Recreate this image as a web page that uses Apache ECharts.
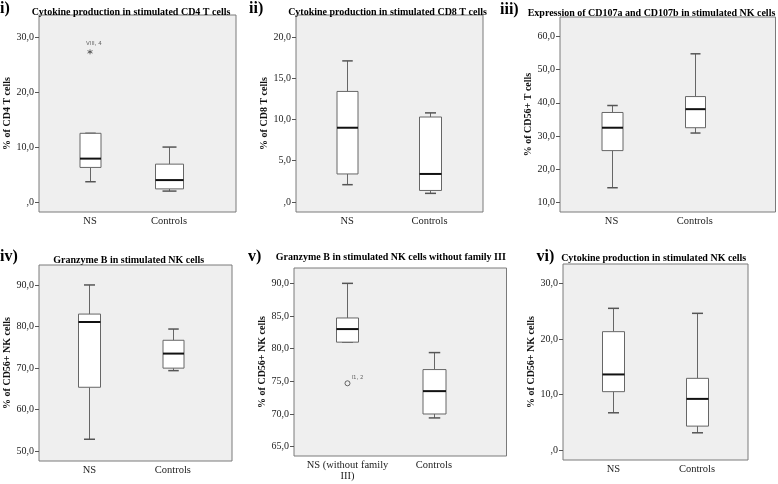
<!DOCTYPE html>
<html><head><meta charset="utf-8">
<script src="https://cdn.jsdelivr.net/npm/echarts@6/dist/echarts.min.js"></script>
<style>html,body{margin:0;padding:0;background:#fff}#c{width:778px;height:484px}</style>
</head><body><div id="c"></div>
<script>
// ---- data: five-number summaries [min, Q1, median, Q3, max] ----
const categories = ['NS', 'Controls'];
const categoriesV = ['NS (without family\nIII)', 'Controls'];

const cd4NS = [3.7, 6.3, 7.9, 12.5, 12.5];
const cd4Controls = [2.0, 2.4, 4.0, 6.9, 10.0];
const cd4Outliers = [27.3];
const cd4OutlierLabels = ['VIII, 4'];

const cd8NS = [2.1, 3.4, 9.0, 13.4, 17.1];
const cd8Controls = [1.05, 1.4, 3.4, 10.3, 10.8];

const cd107NS = [14.4, 25.6, 32.5, 37.1, 39.2];
const cd107Controls = [30.9, 32.5, 38.1, 41.9, 54.8];

const gzbNS = [52.9, 65.4, 81.1, 83.0, 90.0];
const gzbControls = [69.4, 70.0, 73.5, 76.7, 79.4];

const gzbExNS = [81.0, 81.0, 83.0, 84.7, 90.0];
const gzbExControls = [69.4, 70.0, 73.5, 76.8, 79.4];
const gzbExOutliers = [74.7];
const gzbExOutlierLabels = ['I1, 2'];

const nkCytNS = [6.7, 10.5, 13.6, 21.3, 25.5];
const nkCytControls = [3.1, 4.3, 9.2, 12.9, 24.6];

const ticksI = [0, 10, 20, 30];
const ticksII = [0, 5, 10, 15, 20];
const ticksIII = [10, 20, 30, 40, 50, 60];
const ticksIV = [50, 60, 70, 80, 90];
const ticksV = [65, 70, 75, 80, 85, 90];
const ticksVI = [0, 10, 20, 30];

const titles = [
  'Cytokine production in stimulated CD4 T cells',
  'Cytokine production in stimulated CD8 T cells',
  'Expression of CD107a and CD107b in stimulated NK cells',
  'Granzyme B in stimulated NK cells',
  'Granzyme B in stimulated NK cells without family III',
  'Cytokine production in stimulated NK cells'
];
const panelLabels = ['i)', 'ii)', 'iii)', 'iv)', 'v)', 'vi)'];
const yNames = ['% of CD4 T cells', '% of CD8 T cells', '% of CD56+ T cells',
  '% of CD56+ NK cells', '% of CD56+ NK cells', '% of CD56+ NK cells'];

// ---- layout (positions / sizes / styles) ----
const panels = [
  {grid:{left:39, top:15, width:197, height:197}, x:[0.354, 2.848], y:[-1.8, 34.0], ticks:ticksI, cats:categories,
   boxes:[cd4NS, cd4Controls], boxW:[21, 28], tx:131, ty:12.5, lx:0, ly:9,
   outliers:cd4Outliers, outLabels:cd4OutlierLabels, outSymbol:'star'},
  {grid:{left:296, top:15, width:187, height:197}, x:[0.378, 2.65], y:[-1.21, 22.66], ticks:ticksII, cats:categories,
   boxes:[cd8NS, cd8Controls], boxW:[21, 22], tx:387.5, ty:12.5, lx:249, ly:9},
  {grid:{left:560, top:17, width:215.5, height:195}, x:[0.381, 2.97], y:[7.08, 65.9], ticks:ticksIII, cats:categories,
   boxes:[cd107NS, cd107Controls], boxW:[21, 20], tx:651.5, ty:13.3, lx:500, ly:10},
  {grid:{left:39, top:265, width:193, height:196}, x:[0.395, 2.71], y:[47.67, 94.8], ticks:ticksIV, cats:categories,
   boxes:[gzbNS, gzbControls], boxW:[22, 21], tx:128.7, ty:260, lx:0, ly:257},
  {grid:{left:294, top:268, width:212.5, height:188}, x:[0.381, 2.84], y:[63.57, 92.35], ticks:ticksV, cats:categoriesV,
   boxes:[gzbExNS, gzbExControls], boxW:[22, 23], tx:390.8, ty:257.5, lx:248, ly:257,
   outliers:gzbExOutliers, outLabels:gzbExOutlierLabels, outSymbol:'circle'},
  {grid:{left:563, top:264, width:185, height:196}, x:[0.397, 2.61], y:[-1.8, 33.48], ticks:ticksVI, cats:categories,
   boxes:[nkCytNS, nkCytControls], boxW:[22, 22], tx:653.7, ty:258.3, lx:536.5, ly:256.5}
];

const SERIF = '"Liberation Serif", "DejaVu Serif", serif';
const fmt = v => v === 0 ? ',0' : v.toFixed(1).replace('.', ',');

function makeRender(pi) {
  const P = panels[pi];
  return function (params, api) {
    const x = api.value(0);
    const pMin = api.coord([x, api.value(1)]);
    const pQ1 = api.coord([x, api.value(2)]);
    const pMed = api.coord([x, api.value(3)]);
    const pQ3 = api.coord([x, api.value(4)]);
    const pMax = api.coord([x, api.value(5)]);
    const bw = P.boxW[params.dataIndex];
    const cw = bw * 0.5;
    const cx = Math.round(pMed[0]) + 0.5;
    const st = {stroke:'#666', lineWidth:1, fill:null};
    return {
      type:'group',
      children:[
        {type:'line', shape:{x1:cx, y1:pMin[1], x2:cx, y2:pQ1[1]}, style:st},
        {type:'line', shape:{x1:cx, y1:pQ3[1], x2:cx, y2:pMax[1]}, style:st},
        {type:'line', shape:{x1:cx - cw/2, y1:pMin[1], x2:cx + cw/2, y2:pMin[1]}, style:{stroke:'#555', lineWidth:1.5}},
        {type:'line', shape:{x1:cx - cw/2, y1:pMax[1], x2:cx + cw/2, y2:pMax[1]}, style:{stroke:'#555', lineWidth:1.5}},
        {type:'rect', shape:{x:cx - bw/2, y:pQ3[1], width:bw, height:pQ1[1] - pQ3[1]},
         style:{fill:'#ffffff', stroke:'#666', lineWidth:1}},
        {type:'line', shape:{x1:cx - bw/2, y1:pMed[1], x2:cx + bw/2, y2:pMed[1]}, style:{stroke:'#111', lineWidth:2}}
      ]
    };
  };
}

const option = {
  animation:false,
  backgroundColor:'#ffffff',
  grid:[], xAxis:[], yAxis:[], series:[], graphic:[]
};

panels.forEach((P, i) => {
  option.grid.push(Object.assign({show:true, backgroundColor:'#efefef', borderColor:'#7a7a7a', borderWidth:1}, P.grid));
  option.xAxis.push({
    type:'value', gridIndex:i, min:P.x[0], max:P.x[1],
    axisLine:{show:false}, axisTick:{show:false}, splitLine:{show:false},
    axisLabel:{customValues:[1, 2], formatter:v => P.cats[Math.round(v) - 1],
      fontFamily:SERIF, fontSize:10.5, color:'#222', margin:4, lineHeight:11}
  });
  option.yAxis.push({
    type:'value', gridIndex:i, min:P.y[0], max:P.y[1],
    name:yNames[i], nameLocation:'middle', nameGap:26, nameRotate:90,
    nameTextStyle:{fontFamily:SERIF, fontWeight:'bold', fontSize:10, color:'#111'},
    axisLine:{show:false}, splitLine:{show:false},
    axisTick:{show:true, customValues:P.ticks, length:4, inside:false, lineStyle:{color:'#555'}},
    axisLabel:{customValues:P.ticks, formatter:fmt, fontFamily:SERIF, fontSize:10, color:'#222', margin:5}
  });
  option.series.push({
    type:'custom', xAxisIndex:i, yAxisIndex:i, renderItem:makeRender(i),
    encode:{x:0, y:[1, 2, 3, 4, 5]},
    data:P.boxes.map((b, k) => [k + 1].concat(b))
  });
  if (P.outliers) {
    const isStar = P.outSymbol === 'star';
    option.series.push({
      type:'scatter', xAxisIndex:i, yAxisIndex:i,
      symbol: isStar ? 'path://M5,0L5,10M0.7,2.5L9.3,7.5M0.7,7.5L9.3,2.5' : 'circle',
      symbolSize: 5,
      itemStyle: isStar ? {color:'rgba(0,0,0,0)', borderColor:'#444', borderWidth:1} : {color:'#efefef', borderColor:'#444', borderWidth:1},
      label:{show:true, position:isStar ? [-1, -8] : [7, -6], formatter:p => P.outLabels[p.dataIndex],
        fontFamily:'"DejaVu Sans", sans-serif', fontSize:5.5, color:'#444'},
      data:P.outliers.map(v => [1, v])
    });
  }
  option.graphic.push({type:'text', x:P.tx, y:P.ty, style:{text:titles[i], fontFamily:SERIF, fontWeight:'bold', fontSize:10,
    fill:'#000', align:'center', verticalAlign:'middle'}});
  option.graphic.push({type:'text', x:P.lx, y:P.ly, style:{text:panelLabels[i], fontFamily:SERIF, fontWeight:'bold', fontSize:16,
    fill:'#000', align:'left', verticalAlign:'middle'}});
});

const chart = echarts.init(document.getElementById('c'), null, {renderer:'canvas'});
chart.setOption(option);
</script>
</body></html>
